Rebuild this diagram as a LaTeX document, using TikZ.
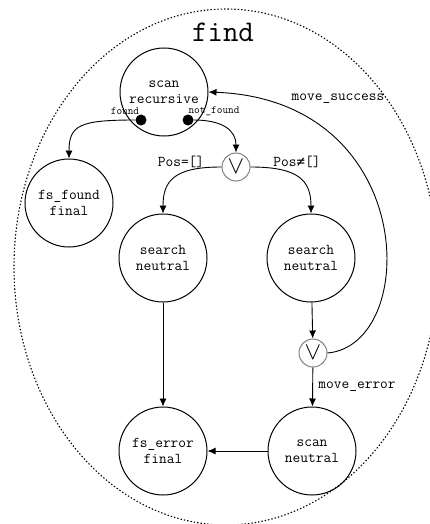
\documentclass[tikz,border=0pt]{standalone}
\usepackage{fontspec}
\newfontfamily\symfont{DejaVu Sans Mono}
\usepackage{tikz}
\usetikzlibrary{arrows.meta}
\usetikzlibrary{positioning}
\usetikzlibrary{shapes}
\begin{document}
\begin{tikzpicture}[x=1pt,y=1pt,font=\ttfamily\fontsize{15}{16}\selectfont,
                state/.style={circle, draw, line width=1pt, minimum size=88pt, inner sep=0pt, align=center},
                gate/.style={circle, draw=gray, line width=1pt, minimum size=28pt, inner sep=0pt},
                dot/.style={circle, fill=black, minimum size=11pt, inner sep=0pt},
                small/.style={font=\ttfamily\fontsize{11}{11}\selectfont},
                arrow/.style={draw,line width=0.9pt,-{Latex[length=8pt,width=7pt]}}
            ]
            \useasboundingbox (0,0) rectangle (430,-524);
            \draw[line width=1.1pt, dash pattern=on 1.4pt off 2pt] (226,-267) ellipse (212 and 258);
            \node[font=\ttfamily\fontsize{30}{30}\selectfont] (title) at (223,-32) {find};
            \node[state] (scanrec) at (164,-92) {scan\\recursive};
            \node[dot] (found) at (141,-120) {};
            \node[dot] (notfound) at (188,-120) {};
            \node[small] (foundlbl) at (125,-111) {found};
            \node[small] (notfoundlbl) at (214,-111) {not\_found};
            \node[state] (fsfound) at (69,-203) {fs\_found\\final};
            \node[gate] (or1) at (236,-167) {\fontsize{24}{24}\selectfont$\vee$};
            \node[state] (searchl) at (163,-258) {search\\neutral};
            \node[state] (searchr) at (311,-258) {search\\neutral};
            \node[gate] (or2) at (313,-353) {\fontsize{24}{24}\selectfont$\vee$};
            \node[state] (scanneu) at (312,-451) {scan\\neutral};
            \node[state] (fserror) at (163,-451) {fs\_error\\final};
            \path[arrow] (found) .. controls (80,-120) and (69,-125) .. (fsfound);
            \path[arrow] (notfound) .. controls (222,-120) and (236,-130) .. (or1);
            \path[arrow] (or1) .. controls (175,-167) and (163,-180) .. (searchl);
            \path[arrow] (or1) .. controls (298,-167) and (311,-180) .. (searchr);
            \node (poseq) at (181,-162) {Pos=[]};
            \node (posneq) at (297,-162) {Pos{\symfont\fontsize{14}{16}\selectfont ≠}[]};
            \path[arrow] (searchl) -- (fserror);
            \path[arrow] (searchr) -- (or2);
            \path[arrow] (or2) -- node[right=2pt] {move\_error} (scanneu);
            \path[arrow] (scanneu) -- (fserror);
            \path[arrow] (or2.east) .. controls (420,-345) and (420,-100) .. (scanrec.east);
            \node (movesucc) at (338,-99) {move\_success};
        \end{tikzpicture}
\end{document}
